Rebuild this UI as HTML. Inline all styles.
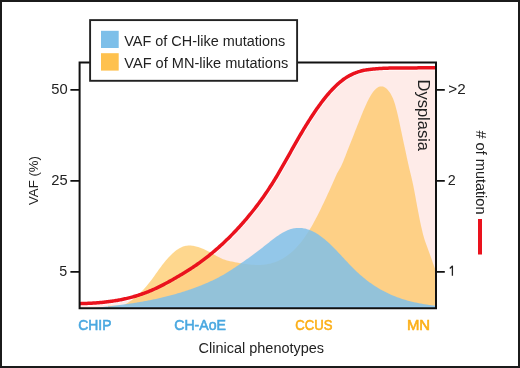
<!DOCTYPE html>
<html><head><meta charset="utf-8">
<style>
html,body{margin:0;padding:0;background:#fff;}
svg{display:block;}
text{font-family:"Liberation Sans", sans-serif;}
svg{will-change:transform;}
</style></head>
<body>
<svg width="520" height="368" viewBox="0 0 520 368">
<rect x="0" y="0" width="520" height="368" fill="#fff"/>
<defs><clipPath id="plot"><rect x="79.6" y="62.5" width="356.4" height="245.7"/></clipPath></defs>
<g clip-path="url(#plot)">
<path d="M78.00 303.69L79.00 303.66L80.00 303.64L81.00 303.61L82.00 303.58L83.00 303.55L84.00 303.52L85.00 303.48L86.00 303.44L87.00 303.40L88.00 303.36L89.00 303.31L90.00 303.26L91.00 303.21L92.00 303.15L93.00 303.09L94.00 303.03L95.00 302.96L96.00 302.89L97.00 302.82L98.00 302.74L99.00 302.66L100.00 302.57L101.00 302.48L102.00 302.39L103.00 302.29L104.00 302.18L105.00 302.08L106.00 301.96L107.00 301.85L108.00 301.73L109.00 301.60L110.00 301.47L111.00 301.33L112.00 301.19L113.00 301.04L114.00 300.89L115.00 300.73L116.00 300.57L117.00 300.40L118.00 300.22L119.00 300.04L120.00 299.85L121.00 299.66L122.00 299.46L123.00 299.26L124.00 299.04L125.00 298.83L126.00 298.60L127.00 298.37L128.00 298.13L129.00 297.89L130.00 297.63L131.00 297.37L132.00 297.11L133.00 296.83L134.00 296.55L135.00 296.26L136.00 295.97L137.00 295.66L138.00 295.35L139.00 295.03L140.00 294.70L141.00 294.37L142.00 294.02L143.00 293.67L144.00 293.31L145.00 292.94L146.00 292.57L147.00 292.18L148.00 291.78L149.00 291.38L150.00 290.97L151.00 290.55L152.00 290.12L153.00 289.68L154.00 289.23L155.00 288.77L156.00 288.31L157.00 287.84L158.00 287.36L159.00 286.87L160.00 286.38L161.00 285.88L162.00 285.37L163.00 284.86L164.00 284.34L165.00 283.81L166.00 283.28L167.00 282.74L168.00 282.20L169.00 281.65L170.00 281.10L171.00 280.54L172.00 279.97L173.00 279.41L174.00 278.84L175.00 278.26L176.00 277.68L177.00 277.10L178.00 276.51L179.00 275.92L180.00 275.33L181.00 274.73L182.00 274.13L183.00 273.53L184.00 272.93L185.00 272.32L186.00 271.70L187.00 271.08L188.00 270.45L189.00 269.82L190.00 269.18L191.00 268.54L192.00 267.88L193.00 267.22L194.00 266.55L195.00 265.88L196.00 265.19L197.00 264.50L198.00 263.80L199.00 263.09L200.00 262.37L201.00 261.65L202.00 260.91L203.00 260.17L204.00 259.42L205.00 258.66L206.00 257.89L207.00 257.11L208.00 256.32L209.00 255.53L210.00 254.72L211.00 253.91L212.00 253.09L213.00 252.25L214.00 251.41L215.00 250.56L216.00 249.70L217.00 248.83L218.00 247.96L219.00 247.07L220.00 246.17L221.00 245.26L222.00 244.34L223.00 243.42L224.00 242.48L225.00 241.53L226.00 240.58L227.00 239.61L228.00 238.64L229.00 237.65L230.00 236.65L231.00 235.64L232.00 234.63L233.00 233.60L234.00 232.56L235.00 231.51L236.00 230.45L237.00 229.38L238.00 228.30L239.00 227.21L240.00 226.11L241.00 225.00L242.00 223.87L243.00 222.74L244.00 221.59L245.00 220.44L246.00 219.27L247.00 218.09L248.00 216.90L249.00 215.69L250.00 214.48L251.00 213.25L252.00 212.01L253.00 210.76L254.00 209.49L255.00 208.21L256.00 206.91L257.00 205.60L258.00 204.27L259.00 202.93L260.00 201.58L261.00 200.20L262.00 198.82L263.00 197.41L264.00 195.99L265.00 194.55L266.00 193.09L267.00 191.62L268.00 190.12L269.00 188.61L270.00 187.08L271.00 185.53L272.00 183.96L273.00 182.37L274.00 180.76L275.00 179.13L276.00 177.49L277.00 175.82L278.00 174.13L279.00 172.43L280.00 170.71L281.00 168.97L282.00 167.24L283.00 165.49L284.00 163.72L285.00 161.95L286.00 160.17L287.00 158.39L288.00 156.61L289.00 154.83L290.00 153.04L291.00 151.25L292.00 149.46L293.00 147.68L294.00 145.91L295.00 144.15L296.00 142.39L297.00 140.64L298.00 138.90L299.00 137.17L300.00 135.45L301.00 133.75L302.00 132.06L303.00 130.39L304.00 128.72L305.00 127.08L306.00 125.45L307.00 123.83L308.00 122.23L309.00 120.65L310.00 119.08L311.00 117.53L312.00 116.00L313.00 114.48L314.00 112.99L315.00 111.51L316.00 110.05L317.00 108.61L318.00 107.20L319.00 105.81L320.00 104.43L321.00 103.07L322.00 101.74L323.00 100.43L324.00 99.15L325.00 97.90L326.00 96.66L327.00 95.44L328.00 94.25L329.00 93.09L330.00 91.96L331.00 90.85L332.00 89.77L333.00 88.71L334.00 87.68L335.00 86.67L336.00 85.71L337.00 84.77L338.00 83.86L339.00 82.97L340.00 82.11L341.00 81.29L342.00 80.51L343.00 79.76L344.00 79.03L345.00 78.34L346.00 77.67L347.00 77.04L348.00 76.44L349.00 75.88L350.00 75.33L351.00 74.82L352.00 74.33L353.00 73.87L354.00 73.44L355.00 73.03L356.00 72.64L357.00 72.28L358.00 71.94L359.00 71.62L360.00 71.32L361.00 71.05L362.00 70.79L363.00 70.54L364.00 70.31L365.00 70.11L366.00 69.93L367.00 69.78L368.00 69.65L369.00 69.52L370.00 69.40L371.00 69.29L372.00 69.19L373.00 69.09L374.00 69.00L375.00 68.91L376.00 68.82L377.00 68.75L378.00 68.67L379.00 68.60L380.00 68.53L381.00 68.47L382.00 68.40L383.00 68.35L384.00 68.30L385.00 68.26L386.00 68.22L387.00 68.18L388.00 68.15L389.00 68.12L390.00 68.10L391.00 68.08L392.00 68.06L393.00 68.04L394.00 68.02L395.00 68.01L396.00 68.00L397.00 67.99L398.00 67.98L399.00 67.98L400.00 67.97L401.00 67.97L402.00 67.96L403.00 67.96L404.00 67.95L405.00 67.94L406.00 67.94L407.00 67.93L408.00 67.92L409.00 67.92L410.00 67.91L411.00 67.91L412.00 67.90L413.00 67.90L414.00 67.89L415.00 67.89L416.00 67.88L417.00 67.88L418.00 67.87L419.00 67.87L420.00 67.87L421.00 67.86L422.00 67.86L423.00 67.85L424.00 67.85L425.00 67.85L426.00 67.84L427.00 67.84L428.00 67.83L429.00 67.82L430.00 67.82L431.00 67.81L432.00 67.81L433.00 67.81L434.00 67.80L435.00 67.80L436.00 67.80L437.00 67.80L438.00 67.80L439.00 67.80L440.00 67.80L440 310L78 310Z" fill="#feebe8"/>
<path d="M78.00 303.69L79.00 303.66L80.00 303.64L81.00 303.61L82.00 303.58L83.00 303.55L84.00 303.52L85.00 303.48L86.00 303.44L87.00 303.40L88.00 303.36L89.00 303.31L90.00 303.26L91.00 303.21L92.00 303.15L93.00 303.09L94.00 303.03L95.00 302.96L96.00 302.89L97.00 302.82L98.00 302.74L99.00 302.66L100.00 302.57L101.00 302.48L102.00 302.39L103.00 302.29L104.00 302.18L105.00 302.08L106.00 301.96L107.00 301.85L108.00 301.73L109.00 301.60L110.00 301.47L111.00 301.33L112.00 301.19L113.00 301.04L114.00 300.89L115.00 300.73L116.00 300.57L117.00 300.40L118.00 300.22L119.00 300.04L120.00 299.85L121.00 299.66L122.00 299.46L123.00 299.26L124.00 299.04L125.00 298.83L126.00 298.60L127.00 298.37L128.00 298.13L129.00 297.89L130.00 297.63L131.00 297.37L132.00 297.11L133.00 296.83L134.00 296.55L135.00 296.26L136.00 295.97L137.00 295.66L138.00 295.35L139.00 295.03L140.00 294.70L141.00 294.37L142.00 294.02L143.00 293.67L144.00 293.31L145.00 292.94L146.00 292.57L147.00 292.18L148.00 291.78L149.00 291.38L150.00 290.97L151.00 290.55L152.00 290.12L153.00 289.68L154.00 289.23L155.00 288.77L156.00 288.31L157.00 287.84L158.00 287.36L159.00 286.87L160.00 286.38L161.00 285.88L162.00 285.37L163.00 284.86L164.00 284.34L165.00 283.81L166.00 283.28L167.00 282.74L168.00 282.20L169.00 281.65L170.00 281.10L171.00 280.54L172.00 279.97L173.00 279.41L174.00 278.84L175.00 278.26L176.00 277.68L177.00 277.10L178.00 276.51L179.00 275.92L180.00 275.33L181.00 274.73L182.00 274.13L183.00 273.53L184.00 272.93L185.00 272.32L186.00 271.70L187.00 271.08L188.00 270.45L189.00 269.82L190.00 269.18L191.00 268.54L192.00 267.88L193.00 267.22L194.00 266.55L195.00 265.88L196.00 265.19L197.00 264.50L198.00 263.80L199.00 263.09L200.00 262.37L201.00 261.65L202.00 260.91L203.00 260.17L204.00 259.42L205.00 258.66L206.00 257.89L207.00 257.11L208.00 256.32L209.00 255.53L210.00 254.72L211.00 253.91L212.00 253.09L213.00 252.25L214.00 251.41L215.00 250.56L216.00 249.70L217.00 248.83L218.00 247.96L219.00 247.07L220.00 246.17L221.00 245.26L222.00 244.34L223.00 243.42L224.00 242.48L225.00 241.53L226.00 240.58L227.00 239.61L228.00 238.64L229.00 237.65L230.00 236.65L231.00 235.64L232.00 234.63L233.00 233.60L234.00 232.56L235.00 231.51L236.00 230.45L237.00 229.38L238.00 228.30L239.00 227.21L240.00 226.11L241.00 225.00L242.00 223.87L243.00 222.74L244.00 221.59L245.00 220.44L246.00 219.27L247.00 218.09L248.00 216.90L249.00 215.69L250.00 214.48L251.00 213.25L252.00 212.01L253.00 210.76L254.00 209.49L255.00 208.21L256.00 206.91L257.00 205.60L258.00 204.27L259.00 202.93L260.00 201.58L261.00 200.20L262.00 198.82L263.00 197.41L264.00 195.99L265.00 194.55L266.00 193.09L267.00 191.62L268.00 190.12L269.00 188.61L270.00 187.08L271.00 185.53L272.00 183.96L273.00 182.37L274.00 180.76L275.00 179.13L276.00 177.49L277.00 175.82L278.00 174.13L279.00 172.43L280.00 170.71L281.00 168.97L282.00 167.24L283.00 165.49L284.00 163.72L285.00 161.95L286.00 160.17L287.00 158.39L288.00 156.61L289.00 154.83L290.00 153.04L291.00 151.25L292.00 149.46L293.00 147.68L294.00 145.91L295.00 144.15L296.00 142.39L297.00 140.64L298.00 138.90L299.00 137.17L300.00 135.45L301.00 133.75L302.00 132.06L303.00 130.39L304.00 128.72L305.00 127.08L306.00 125.45L307.00 123.83L308.00 122.23L309.00 120.65L310.00 119.08L311.00 117.53L312.00 116.00L313.00 114.48L314.00 112.99L315.00 111.51L316.00 110.05L317.00 108.61L318.00 107.20L319.00 105.81L320.00 104.43L321.00 103.07L322.00 101.74L323.00 100.43L324.00 99.15L325.00 97.90L326.00 96.66L327.00 95.44L328.00 94.25L329.00 93.09L330.00 91.96L331.00 90.85L332.00 89.77L333.00 88.71L334.00 87.68L335.00 86.67L336.00 85.71L337.00 84.77L338.00 83.86L339.00 82.97L340.00 82.11L341.00 81.29L342.00 80.51L343.00 79.76L344.00 79.03L345.00 78.34L346.00 77.67L347.00 77.04L348.00 76.44L349.00 75.88L350.00 75.33L351.00 74.82L352.00 74.33L353.00 73.87L354.00 73.44L355.00 73.03L356.00 72.64L357.00 72.28L358.00 71.94L359.00 71.62L360.00 71.32L361.00 71.05L362.00 70.79L363.00 70.54L364.00 70.31L365.00 70.11L366.00 69.93L367.00 69.78L368.00 69.65L369.00 69.52L370.00 69.40L371.00 69.29L372.00 69.19L373.00 69.09L374.00 69.00L375.00 68.91L376.00 68.82L377.00 68.75L378.00 68.67L379.00 68.60L380.00 68.53L381.00 68.47L382.00 68.40L383.00 68.35L384.00 68.30L385.00 68.26L386.00 68.22L387.00 68.18L388.00 68.15L389.00 68.12L390.00 68.10L391.00 68.08L392.00 68.06L393.00 68.04L394.00 68.02L395.00 68.01L396.00 68.00L397.00 67.99L398.00 67.98L399.00 67.98L400.00 67.97L401.00 67.97L402.00 67.96L403.00 67.96L404.00 67.95L405.00 67.94L406.00 67.94L407.00 67.93L408.00 67.92L409.00 67.92L410.00 67.91L411.00 67.91L412.00 67.90L413.00 67.90L414.00 67.89L415.00 67.89L416.00 67.88L417.00 67.88L418.00 67.87L419.00 67.87L420.00 67.87L421.00 67.86L422.00 67.86L423.00 67.85L424.00 67.85L425.00 67.85L426.00 67.84L427.00 67.84L428.00 67.83L429.00 67.82L430.00 67.82L431.00 67.81L432.00 67.81L433.00 67.81L434.00 67.80L435.00 67.80L436.00 67.80L437.00 67.80L438.00 67.80L439.00 67.80L440.00 67.80" fill="none" stroke="#fff" stroke-width="5.0"/>
<path d="M108.00 308.41L109.00 308.48L110.00 308.51L111.00 308.51L112.00 308.46L113.00 308.37L114.00 308.24L115.00 308.08L116.00 307.87L117.00 307.64L118.00 307.36L119.00 307.05L120.00 306.70L121.00 306.31L122.00 305.90L123.00 305.44L124.00 304.96L125.00 304.44L126.00 303.89L127.00 303.31L128.00 302.69L129.00 302.05L130.00 301.37L131.00 300.67L132.00 299.94L133.00 299.17L134.00 298.38L135.00 297.57L136.00 296.72L137.00 295.85L138.00 294.95L139.00 294.03L140.00 293.07L141.00 292.09L142.00 291.08L143.00 290.04L144.00 288.96L145.00 287.85L146.00 286.72L147.00 285.54L148.00 284.33L149.00 283.09L150.00 281.81L151.00 280.50L152.00 279.15L153.00 277.78L154.00 276.38L155.00 274.97L156.00 273.56L157.00 272.15L158.00 270.74L159.00 269.35L160.00 267.98L161.00 266.64L162.00 265.32L163.00 264.03L164.00 262.77L165.00 261.54L166.00 260.34L167.00 259.18L168.00 258.05L169.00 256.97L170.00 255.92L171.00 254.91L172.00 253.95L173.00 253.03L174.00 252.16L175.00 251.33L176.00 250.55L177.00 249.83L178.00 249.15L179.00 248.53L180.00 247.97L181.00 247.46L182.00 247.01L183.00 246.62L184.00 246.30L185.00 246.03L186.00 245.82L187.00 245.67L188.00 245.58L189.00 245.53L190.00 245.54L191.00 245.59L192.00 245.68L193.00 245.82L194.00 245.99L195.00 246.20L196.00 246.44L197.00 246.71L198.00 247.01L199.00 247.34L200.00 247.68L201.00 248.05L202.00 248.44L203.00 248.85L204.00 249.28L205.00 249.72L206.00 250.19L207.00 250.68L208.00 251.18L209.00 251.71L210.00 252.25L211.00 252.80L212.00 253.37L213.00 253.95L214.00 254.52L215.00 255.10L216.00 255.67L217.00 256.23L218.00 256.78L219.00 257.31L220.00 257.82L221.00 258.30L222.00 258.75L223.00 259.16L224.00 259.53L225.00 259.87L226.00 260.19L227.00 260.47L228.00 260.73L229.00 260.97L230.00 261.20L231.00 261.41L232.00 261.62L233.00 261.81L234.00 262.01L235.00 262.20L236.00 262.39L237.00 262.58L238.00 262.77L239.00 262.95L240.00 263.13L241.00 263.30L242.00 263.47L243.00 263.63L244.00 263.78L245.00 263.93L246.00 264.07L247.00 264.21L248.00 264.33L249.00 264.44L250.00 264.55L251.00 264.64L252.00 264.73L253.00 264.80L254.00 264.86L255.00 264.90L256.00 264.94L257.00 264.96L258.00 264.96L259.00 264.95L260.00 264.92L261.00 264.88L262.00 264.82L263.00 264.74L264.00 264.64L265.00 264.53L266.00 264.39L267.00 264.23L268.00 264.05L269.00 263.85L270.00 263.63L271.00 263.39L272.00 263.12L273.00 262.83L274.00 262.51L275.00 262.16L276.00 261.79L277.00 261.40L278.00 260.97L279.00 260.52L280.00 260.04L281.00 259.53L282.00 258.99L283.00 258.42L284.00 257.81L285.00 257.18L286.00 256.51L287.00 255.81L288.00 255.08L289.00 254.31L290.00 253.50L291.00 252.67L292.00 251.79L293.00 250.88L294.00 249.93L295.00 248.94L296.00 247.91L297.00 246.84L298.00 245.73L299.00 244.59L300.00 243.40L301.00 242.16L302.00 240.89L303.00 239.57L304.00 238.21L305.00 236.80L306.00 235.35L307.00 233.85L308.00 232.31L309.00 230.72L310.00 229.08L311.00 227.39L312.00 225.66L313.00 223.89L314.00 222.07L315.00 220.22L316.00 218.33L317.00 216.41L318.00 214.45L319.00 212.47L320.00 210.46L321.00 208.42L322.00 206.36L323.00 204.28L324.00 202.17L325.00 200.05L326.00 197.91L327.00 195.75L328.00 193.58L329.00 191.38L330.00 189.17L331.00 186.94L332.00 184.69L333.00 182.43L334.00 180.15L335.00 177.88L336.00 175.66L337.00 173.56L338.00 171.63L339.00 169.89L340.00 168.22L341.00 166.42L342.00 164.35L343.00 162.04L344.00 159.56L345.00 156.99L346.00 154.39L347.00 151.81L348.00 149.25L349.00 146.71L350.00 144.19L351.00 141.67L352.00 139.16L353.00 136.65L354.00 134.13L355.00 131.61L356.00 129.08L357.00 126.53L358.00 123.98L359.00 121.44L360.00 118.92L361.00 116.42L362.00 113.96L363.00 111.55L364.00 109.19L365.00 106.90L366.00 104.69L367.00 102.56L368.00 100.52L369.00 98.60L370.00 96.78L371.00 95.09L372.00 93.53L373.00 92.12L374.00 90.86L375.00 89.75L376.00 88.79L377.00 87.99L378.00 87.34L379.00 86.86L380.00 86.55L381.00 86.39L382.00 86.41L383.00 86.60L384.00 86.96L385.00 87.49L386.00 88.20L387.00 89.09L388.00 90.17L389.00 91.43L390.00 92.87L391.00 94.51L392.00 96.40L393.00 98.62L394.00 101.24L395.00 104.32L396.00 107.88L397.00 111.84L398.00 116.12L399.00 120.62L400.00 125.27L401.00 129.98L402.00 134.71L403.00 139.45L404.00 144.17L405.00 148.87L406.00 153.54L407.00 158.18L408.00 162.76L409.00 167.21L410.00 171.46L411.00 175.54L412.00 179.72L413.00 184.31L414.00 189.30L415.00 194.58L416.00 200.00L417.00 205.46L418.00 210.81L419.00 215.98L420.00 220.93L421.00 225.66L422.00 230.11L423.00 234.19L424.00 237.82L425.00 240.99L426.00 243.85L427.00 246.57L428.00 249.29L429.00 252.03L430.00 254.79L431.00 257.57L432.00 260.36L433.00 263.16L434.00 265.97L435.00 268.78L436.00 271.57L437.00 274.32L438.00 277.00L439.00 279.57L440.00 282.00L440 305.7L108 305.7Z" fill="#fec14e" fill-opacity="0.64"/>
<path d="M80.00 309.12L81.00 309.03L82.00 308.94L83.00 308.85L84.00 308.76L85.00 308.67L86.00 308.57L87.00 308.48L88.00 308.39L89.00 308.30L90.00 308.21L91.00 308.11L92.00 308.02L93.00 307.92L94.00 307.83L95.00 307.73L96.00 307.63L97.00 307.54L98.00 307.44L99.00 307.34L100.00 307.24L101.00 307.14L102.00 307.03L103.00 306.93L104.00 306.82L105.00 306.72L106.00 306.61L107.00 306.50L108.00 306.39L109.00 306.28L110.00 306.17L111.00 306.06L112.00 305.94L113.00 305.83L114.00 305.71L115.00 305.59L116.00 305.47L117.00 305.35L118.00 305.22L119.00 305.10L120.00 304.97L121.00 304.84L122.00 304.71L123.00 304.58L124.00 304.44L125.00 304.31L126.00 304.17L127.00 304.03L128.00 303.88L129.00 303.74L130.00 303.59L131.00 303.44L132.00 303.29L133.00 303.14L134.00 302.98L135.00 302.83L136.00 302.67L137.00 302.50L138.00 302.34L139.00 302.17L140.00 302.00L141.00 301.83L142.00 301.65L143.00 301.48L144.00 301.30L145.00 301.11L146.00 300.93L147.00 300.74L148.00 300.55L149.00 300.35L150.00 300.16L151.00 299.96L152.00 299.76L153.00 299.55L154.00 299.34L155.00 299.13L156.00 298.91L157.00 298.70L158.00 298.47L159.00 298.25L160.00 298.02L161.00 297.79L162.00 297.56L163.00 297.32L164.00 297.08L165.00 296.83L166.00 296.58L167.00 296.33L168.00 296.08L169.00 295.82L170.00 295.56L171.00 295.29L172.00 295.02L173.00 294.75L174.00 294.47L175.00 294.19L176.00 293.90L177.00 293.61L178.00 293.32L179.00 293.02L180.00 292.72L181.00 292.41L182.00 292.10L183.00 291.79L184.00 291.47L185.00 291.15L186.00 290.82L187.00 290.49L188.00 290.16L189.00 289.82L190.00 289.47L191.00 289.13L192.00 288.77L193.00 288.41L194.00 288.05L195.00 287.69L196.00 287.31L197.00 286.94L198.00 286.56L199.00 286.17L200.00 285.78L201.00 285.39L202.00 284.98L203.00 284.58L204.00 284.17L205.00 283.75L206.00 283.33L207.00 282.90L208.00 282.46L209.00 282.02L210.00 281.57L211.00 281.11L212.00 280.64L213.00 280.17L214.00 279.69L215.00 279.20L216.00 278.70L217.00 278.19L218.00 277.68L219.00 277.15L220.00 276.62L221.00 276.07L222.00 275.52L223.00 274.95L224.00 274.38L225.00 273.79L226.00 273.19L227.00 272.58L228.00 271.96L229.00 271.33L230.00 270.70L231.00 270.05L232.00 269.40L233.00 268.74L234.00 268.08L235.00 267.41L236.00 266.74L237.00 266.06L238.00 265.38L239.00 264.70L240.00 264.01L241.00 263.32L242.00 262.62L243.00 261.92L244.00 261.22L245.00 260.52L246.00 259.81L247.00 259.10L248.00 258.38L249.00 257.66L250.00 256.94L251.00 256.22L252.00 255.49L253.00 254.76L254.00 254.03L255.00 253.29L256.00 252.55L257.00 251.80L258.00 251.05L259.00 250.29L260.00 249.52L261.00 248.74L262.00 247.96L263.00 247.17L264.00 246.37L265.00 245.58L266.00 244.78L267.00 243.98L268.00 243.18L269.00 242.39L270.00 241.60L271.00 240.82L272.00 240.05L273.00 239.29L274.00 238.54L275.00 237.80L276.00 237.08L277.00 236.37L278.00 235.68L279.00 235.01L280.00 234.36L281.00 233.73L282.00 233.12L283.00 232.55L284.00 231.99L285.00 231.47L286.00 230.98L287.00 230.52L288.00 230.09L289.00 229.70L290.00 229.34L291.00 229.02L292.00 228.74L293.00 228.51L294.00 228.31L295.00 228.15L296.00 228.03L297.00 227.94L298.00 227.90L299.00 227.89L300.00 227.92L301.00 227.99L302.00 228.09L303.00 228.23L304.00 228.40L305.00 228.61L306.00 228.86L307.00 229.14L308.00 229.45L309.00 229.80L310.00 230.17L311.00 230.59L312.00 231.03L313.00 231.51L314.00 232.02L315.00 232.55L316.00 233.12L317.00 233.72L318.00 234.35L319.00 235.01L320.00 235.70L321.00 236.42L322.00 237.17L323.00 237.94L324.00 238.74L325.00 239.57L326.00 240.42L327.00 241.30L328.00 242.20L329.00 243.12L330.00 244.07L331.00 245.03L332.00 246.00L333.00 247.00L334.00 248.01L335.00 249.03L336.00 250.06L337.00 251.10L338.00 252.15L339.00 253.21L340.00 254.28L341.00 255.35L342.00 256.42L343.00 257.49L344.00 258.57L345.00 259.64L346.00 260.71L347.00 261.77L348.00 262.83L349.00 263.89L350.00 264.93L351.00 265.97L352.00 266.99L353.00 268.00L354.00 269.00L355.00 269.98L356.00 270.95L357.00 271.90L358.00 272.83L359.00 273.74L360.00 274.63L361.00 275.51L362.00 276.37L363.00 277.21L364.00 278.04L365.00 278.85L366.00 279.64L367.00 280.42L368.00 281.18L369.00 281.92L370.00 282.65L371.00 283.37L372.00 284.06L373.00 284.75L374.00 285.42L375.00 286.07L376.00 286.71L377.00 287.34L378.00 287.95L379.00 288.55L380.00 289.13L381.00 289.70L382.00 290.26L383.00 290.80L384.00 291.33L385.00 291.85L386.00 292.35L387.00 292.85L388.00 293.33L389.00 293.80L390.00 294.25L391.00 294.70L392.00 295.13L393.00 295.56L394.00 295.97L395.00 296.37L396.00 296.76L397.00 297.14L398.00 297.51L399.00 297.87L400.00 298.22L401.00 298.56L402.00 298.89L403.00 299.21L404.00 299.52L405.00 299.82L406.00 300.12L407.00 300.40L408.00 300.68L409.00 300.95L410.00 301.21L411.00 301.46L412.00 301.71L413.00 301.95L414.00 302.18L415.00 302.40L416.00 302.62L417.00 302.83L418.00 303.03L419.00 303.23L420.00 303.42L421.00 303.61L422.00 303.79L423.00 303.96L424.00 304.13L425.00 304.29L426.00 304.45L427.00 304.60L428.00 304.75L429.00 304.90L430.00 305.04L431.00 305.18L432.00 305.31L433.00 305.44L434.00 305.56L435.00 305.69L436.00 305.81L437.00 305.92L438.00 306.04L439.00 306.15L440.00 306.26L440 310L80 310Z" fill="#7dbfe9" fill-opacity="0.83"/>
<path d="M78.00 303.69L79.00 303.66L80.00 303.64L81.00 303.61L82.00 303.58L83.00 303.55L84.00 303.52L85.00 303.48L86.00 303.44L87.00 303.40L88.00 303.36L89.00 303.31L90.00 303.26L91.00 303.21L92.00 303.15L93.00 303.09L94.00 303.03L95.00 302.96L96.00 302.89L97.00 302.82L98.00 302.74L99.00 302.66L100.00 302.57L101.00 302.48L102.00 302.39L103.00 302.29L104.00 302.18L105.00 302.08L106.00 301.96L107.00 301.85L108.00 301.73L109.00 301.60L110.00 301.47L111.00 301.33L112.00 301.19L113.00 301.04L114.00 300.89L115.00 300.73L116.00 300.57L117.00 300.40L118.00 300.22L119.00 300.04L120.00 299.85L121.00 299.66L122.00 299.46L123.00 299.26L124.00 299.04L125.00 298.83L126.00 298.60L127.00 298.37L128.00 298.13L129.00 297.89L130.00 297.63L131.00 297.37L132.00 297.11L133.00 296.83L134.00 296.55L135.00 296.26L136.00 295.97L137.00 295.66L138.00 295.35L139.00 295.03L140.00 294.70L141.00 294.37L142.00 294.02L143.00 293.67L144.00 293.31L145.00 292.94L146.00 292.57L147.00 292.18L148.00 291.78L149.00 291.38L150.00 290.97L151.00 290.55L152.00 290.12L153.00 289.68L154.00 289.23L155.00 288.77L156.00 288.31L157.00 287.84L158.00 287.36L159.00 286.87L160.00 286.38L161.00 285.88L162.00 285.37L163.00 284.86L164.00 284.34L165.00 283.81L166.00 283.28L167.00 282.74L168.00 282.20L169.00 281.65L170.00 281.10L171.00 280.54L172.00 279.97L173.00 279.41L174.00 278.84L175.00 278.26L176.00 277.68L177.00 277.10L178.00 276.51L179.00 275.92L180.00 275.33L181.00 274.73L182.00 274.13L183.00 273.53L184.00 272.93L185.00 272.32L186.00 271.70L187.00 271.08L188.00 270.45L189.00 269.82L190.00 269.18L191.00 268.54L192.00 267.88L193.00 267.22L194.00 266.55L195.00 265.88L196.00 265.19L197.00 264.50L198.00 263.80L199.00 263.09L200.00 262.37L201.00 261.65L202.00 260.91L203.00 260.17L204.00 259.42L205.00 258.66L206.00 257.89L207.00 257.11L208.00 256.32L209.00 255.53L210.00 254.72L211.00 253.91L212.00 253.09L213.00 252.25L214.00 251.41L215.00 250.56L216.00 249.70L217.00 248.83L218.00 247.96L219.00 247.07L220.00 246.17L221.00 245.26L222.00 244.34L223.00 243.42L224.00 242.48L225.00 241.53L226.00 240.58L227.00 239.61L228.00 238.64L229.00 237.65L230.00 236.65L231.00 235.64L232.00 234.63L233.00 233.60L234.00 232.56L235.00 231.51L236.00 230.45L237.00 229.38L238.00 228.30L239.00 227.21L240.00 226.11L241.00 225.00L242.00 223.87L243.00 222.74L244.00 221.59L245.00 220.44L246.00 219.27L247.00 218.09L248.00 216.90L249.00 215.69L250.00 214.48L251.00 213.25L252.00 212.01L253.00 210.76L254.00 209.49L255.00 208.21L256.00 206.91L257.00 205.60L258.00 204.27L259.00 202.93L260.00 201.58L261.00 200.20L262.00 198.82L263.00 197.41L264.00 195.99L265.00 194.55L266.00 193.09L267.00 191.62L268.00 190.12L269.00 188.61L270.00 187.08L271.00 185.53L272.00 183.96L273.00 182.37L274.00 180.76L275.00 179.13L276.00 177.49L277.00 175.82L278.00 174.13L279.00 172.43L280.00 170.71L281.00 168.97L282.00 167.24L283.00 165.49L284.00 163.72L285.00 161.95L286.00 160.17L287.00 158.39L288.00 156.61L289.00 154.83L290.00 153.04L291.00 151.25L292.00 149.46L293.00 147.68L294.00 145.91L295.00 144.15L296.00 142.39L297.00 140.64L298.00 138.90L299.00 137.17L300.00 135.45L301.00 133.75L302.00 132.06L303.00 130.39L304.00 128.72L305.00 127.08L306.00 125.45L307.00 123.83L308.00 122.23L309.00 120.65L310.00 119.08L311.00 117.53L312.00 116.00L313.00 114.48L314.00 112.99L315.00 111.51L316.00 110.05L317.00 108.61L318.00 107.20L319.00 105.81L320.00 104.43L321.00 103.07L322.00 101.74L323.00 100.43L324.00 99.15L325.00 97.90L326.00 96.66L327.00 95.44L328.00 94.25L329.00 93.09L330.00 91.96L331.00 90.85L332.00 89.77L333.00 88.71L334.00 87.68L335.00 86.67L336.00 85.71L337.00 84.77L338.00 83.86L339.00 82.97L340.00 82.11L341.00 81.29L342.00 80.51L343.00 79.76L344.00 79.03L345.00 78.34L346.00 77.67L347.00 77.04L348.00 76.44L349.00 75.88L350.00 75.33L351.00 74.82L352.00 74.33L353.00 73.87L354.00 73.44L355.00 73.03L356.00 72.64L357.00 72.28L358.00 71.94L359.00 71.62L360.00 71.32L361.00 71.05L362.00 70.79L363.00 70.54L364.00 70.31L365.00 70.11L366.00 69.93L367.00 69.78L368.00 69.65L369.00 69.52L370.00 69.40L371.00 69.29L372.00 69.19L373.00 69.09L374.00 69.00L375.00 68.91L376.00 68.82L377.00 68.75L378.00 68.67L379.00 68.60L380.00 68.53L381.00 68.47L382.00 68.40L383.00 68.35L384.00 68.30L385.00 68.26L386.00 68.22L387.00 68.18L388.00 68.15L389.00 68.12L390.00 68.10L391.00 68.08L392.00 68.06L393.00 68.04L394.00 68.02L395.00 68.01L396.00 68.00L397.00 67.99L398.00 67.98L399.00 67.98L400.00 67.97L401.00 67.97L402.00 67.96L403.00 67.96L404.00 67.95L405.00 67.94L406.00 67.94L407.00 67.93L408.00 67.92L409.00 67.92L410.00 67.91L411.00 67.91L412.00 67.90L413.00 67.90L414.00 67.89L415.00 67.89L416.00 67.88L417.00 67.88L418.00 67.87L419.00 67.87L420.00 67.87L421.00 67.86L422.00 67.86L423.00 67.85L424.00 67.85L425.00 67.85L426.00 67.84L427.00 67.84L428.00 67.83L429.00 67.82L430.00 67.82L431.00 67.81L432.00 67.81L433.00 67.81L434.00 67.80L435.00 67.80L436.00 67.80L437.00 67.80L438.00 67.80L439.00 67.80L440.00 67.80" fill="none" stroke="#ea121d" stroke-width="3.5"/>
</g>
<path d="M79.6 62.5V308.2H436.0V62.5Z" fill="none" stroke="#111" stroke-width="2"/>
<path d="M70.4 89.8H79.6M70.4 180.8H79.6M70.4 271.8H79.6" stroke="#111" stroke-width="1.7"/>
<path d="M436.0 89.8H444.8M436.0 180.8H444.8M436.0 271.8H444.8" stroke="#111" stroke-width="1.7"/>
<rect x="90.1" y="20.1" width="207" height="60.7" fill="#fff" stroke="#222" stroke-width="1.9"/>
<rect x="101" y="30.8" width="17.7" height="17.2" fill="#7dbfe9"/>
<rect x="101" y="53.2" width="17.7" height="17.4" fill="#fec14e"/>
<g fill="#222" font-size="14">
<text x="124.3" y="45.6" textLength="161" lengthAdjust="spacingAndGlyphs">VAF of CH-like mutations</text>
<text x="124.3" y="67.6" textLength="164" lengthAdjust="spacingAndGlyphs">VAF of MN-like mutations</text>
</g>
<g fill="#222" font-size="14.3">
<text x="51.2" y="94" textLength="16.4" lengthAdjust="spacingAndGlyphs">50</text>
<text x="51.2" y="185.1" textLength="16.4" lengthAdjust="spacingAndGlyphs">25</text>
<text x="59.2" y="276">5</text>
<text x="448.3" y="93.9" textLength="17.4" lengthAdjust="spacingAndGlyphs">&gt;2</text>
<text x="447.8" y="185">2</text>
</g>
<text transform="translate(37.8 205) rotate(-90)" fill="#222" font-size="13.2" textLength="49" lengthAdjust="spacingAndGlyphs">VAF (%)</text>
<text transform="translate(417.6 79.5) rotate(90)" fill="#222" font-size="16.4" textLength="71.5" lengthAdjust="spacingAndGlyphs">Dysplasia</text>
<text transform="translate(476.2 130.5) rotate(90)" fill="#222" font-size="14" textLength="84" lengthAdjust="spacingAndGlyphs">#&#160;of mutation</text>
<path d="M449.8 268.4L452.4 266.1V275.8" fill="none" stroke="#222" stroke-width="1.3" stroke-linejoin="round"/>
<rect x="478" y="219" width="4" height="35.5" fill="#ea121d"/>
<g font-size="13.8" stroke-width="0.55">
<text x="78.3" y="329.7" fill="#4aa8e0" stroke="#4aa8e0" textLength="33.2" lengthAdjust="spacingAndGlyphs">CHIP</text>
<text x="174.2" y="329.7" fill="#4aa8e0" stroke="#4aa8e0" textLength="51.8" lengthAdjust="spacingAndGlyphs">CH-AoE</text>
<text x="295.2" y="329.7" fill="#fcaf17" stroke="#fcaf17" textLength="37.2" lengthAdjust="spacingAndGlyphs">CCUS</text>
<text x="406.9" y="329.7" fill="#fcaf17" stroke="#fcaf17" textLength="23.2" lengthAdjust="spacingAndGlyphs">MN</text>
</g>
<text x="198.6" y="352.8" fill="#222" font-size="14" textLength="125.5" lengthAdjust="spacingAndGlyphs">Clinical phenotypes</text>
<rect x="1" y="1" width="518" height="366" fill="none" stroke="#1b1b1b" stroke-width="2"/>
</svg>
</body></html>
